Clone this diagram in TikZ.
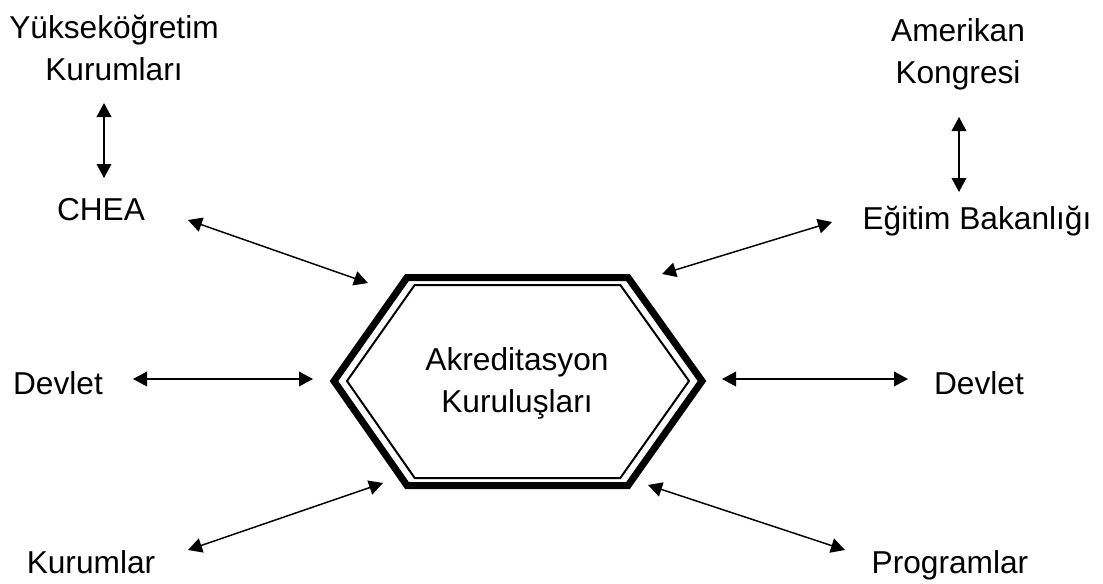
\documentclass[tikz,border=0pt]{standalone}
\usepackage{fontspec}
\setmainfont{Liberation Sans}
\usetikzlibrary{arrows.meta}

\begin{document}
\begin{tikzpicture}[x=0.75pt,y=-0.75pt,
    lbl/.style={inner sep=0pt,align=center,font=\fontsize{23.75pt}{31.5pt}\selectfont},
    link/.style={{Triangle[length=10.5pt,width=11pt]}-{Triangle[length=10.5pt,width=11pt]},line width=1.1pt}]
     \useasboundingbox (0,0) rectangle (1103,583);
     % hexagon, thick outer and thin inner line
     \coordinate (hl)  at (334,381);
     \coordinate (htl) at (407,277.5);
     \coordinate (htr) at (628,277.5);
     \coordinate (hr)  at (702,381);
     \coordinate (hbr) at (628,485.5);
     \coordinate (hbl) at (407,485.5);
     \draw[line width=5.25pt,line join=miter] (hl) -- (htl) -- (htr) -- (hr) -- (hbr) -- (hbl) -- cycle;
     \draw[line width=1.5pt,line join=miter] (347,381) -- (414.7,285) -- (620.3,285) -- (689,381) -- (620.3,478) -- (414.7,478) -- cycle;
     \node[lbl] (akr) at (517,383) {Akreditasyon\\Kuruluşları};
     % labels
     \node[lbl] (yuk) at (114,48) {Yükseköğretim\\Kurumları};
     \node[lbl] (ak) at (958,54) {Amerikan\\Kongresi};
     \node[lbl,anchor=base] (chea) at (101,220) {CHEA};
     \node[lbl,anchor=base] (egt) at (977,229) {Eğitim Bakanlığı};
     \node[lbl,anchor=base] (dvl) at (58,394) {Devlet};
     \node[lbl,anchor=base] (dvr) at (979,394) {Devlet};
     \node[lbl,anchor=base] (kur) at (91,573) {Kurumlar};
     \node[lbl,anchor=base] (prg) at (950,573) {Programlar};
     % arrow ends
     \coordinate (yuk-s) at (104,103);
     \coordinate (chea-n) at (104,178);
     \coordinate (chea-e) at (188,220);
     \coordinate (hex-nw) at (368,283);
     \coordinate (ak-s) at (959,117);
     \coordinate (egt-n) at (959,192);
     \coordinate (egt-w) at (832,222);
     \coordinate (hex-ne) at (662,274);
     \coordinate (dvl-e) at (133,379);
     \coordinate (hex-w) at (313,379);
     \coordinate (dvr-w) at (908,379);
     \coordinate (hex-e) at (722,379);
     \coordinate (kur-e) at (188,550);
     \coordinate (hex-sw) at (383,483);
     \coordinate (prg-w) at (845,550);
     \coordinate (hex-se) at (648,485);
     \draw[link] (yuk-s) -- (chea-n);
     \draw[link] (chea-e) -- (hex-nw);
     \draw[link] (ak-s) -- (egt-n);
     \draw[link] (egt-w) -- (hex-ne);
     \draw[link] (dvl-e) -- (hex-w);
     \draw[link] (hex-e) -- (dvr-w);
     \draw[link] (kur-e) -- (hex-sw);
     \draw[link] (hex-se) -- (prg-w);
\end{tikzpicture}
\end{document}
